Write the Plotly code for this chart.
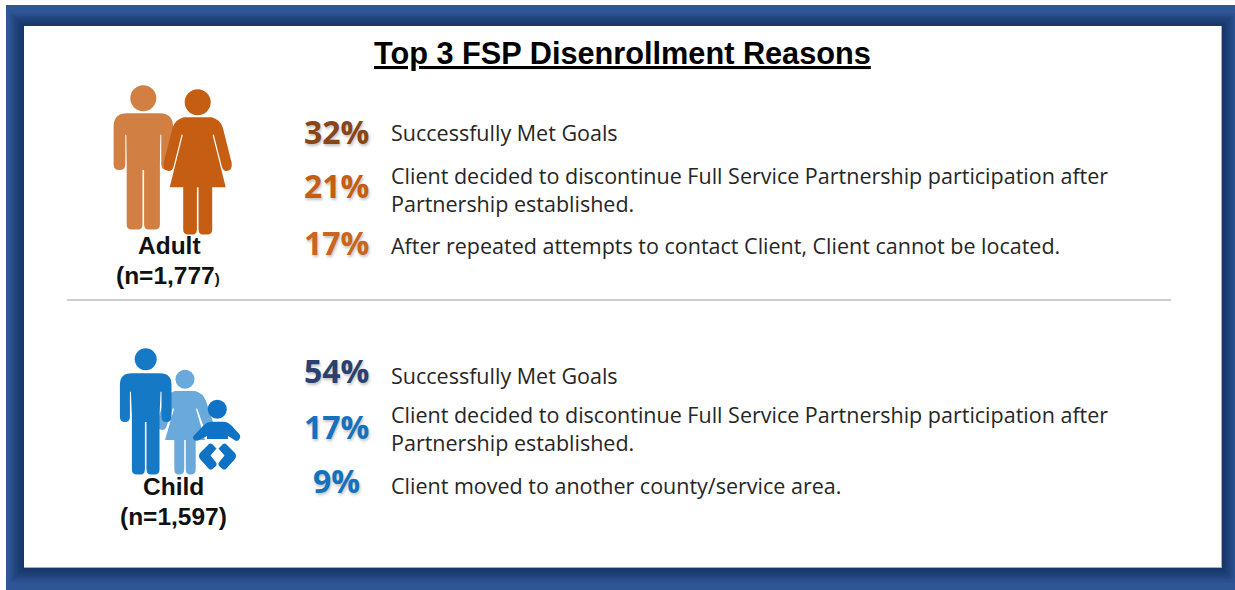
import plotly.graph_objects as go

TITLE = "Top 3 FSP Disenrollment Reasons"
adult_label = "Adult"
adult_n = "(n=1,777<span style='font-size:15px'>)</span>"
child_label = "Child"
child_n = "(n=1,597)"
adult_pct = [32, 21, 17]
child_pct = [54, 17, 9]
adult_reasons = [
    "Successfully Met Goals",
    "Client decided to discontinue Full Service Partnership participation after<br>Partnership established.",
    "After repeated attempts to contact Client, Client cannot be located.",
]
child_reasons = [
    "Successfully Met Goals",
    "Client decided to discontinue Full Service Partnership participation after<br>Partnership established.",
    "Client moved to another county/service area.",
]

W, H = 1235, 590
shapes, ann = [], []


def rect(x0, y0, x1, y1, color, opacity=1):
    shapes.append(dict(type="rect", x0=x0, y0=y0, x1=x1, y1=y1, fillcolor=color,
                       opacity=opacity, line_width=0, layer="below"))


def circle(cx, cy, r, color):
    shapes.append(dict(type="circle", x0=cx - r, x1=cx + r, y0=cy - r, y1=cy + r,
                       fillcolor=color, line_width=0, layer="below"))


def path(d, color):
    shapes.append(dict(type="path", path=d, fillcolor=color, line_width=0, layer="below"))


def man(cx, top, halfw, arm, armbot, leghalf, bot, color):
    r = arm * 1.15
    l, R = cx - halfw, cx + halfw
    d = (f"M{l},{top+r} Q{l},{top} {l+r},{top} L{R-r},{top} Q{R},{top} {R},{top+r} "
         f"L{R},{armbot-arm/2} Q{R},{armbot} {R-arm/2},{armbot} Q{R-arm},{armbot} {R-arm},{armbot-arm/2} "
         f"L{R-arm},{top+r*1.6} L{R-arm-1},{top+r*1.6} "
         f"L{cx+leghalf},{armbot-arm/2} L{cx+leghalf},{bot-5} Q{cx+leghalf},{bot} {cx+leghalf-5},{bot} "
         f"L{cx+5},{bot} Q{cx+1},{bot} {cx+0.8},{bot-5} L{cx+0.8},{armbot} L{cx-0.8},{armbot} L{cx-0.8},{bot-5} "
         f"Q{cx-1},{bot} {cx-5},{bot} L{cx-leghalf+5},{bot} Q{cx-leghalf},{bot} {cx-leghalf},{bot-5} "
         f"L{cx-leghalf},{armbot-arm/2} L{l+arm+1},{top+r*1.6} L{l+arm},{top+r*1.6} "
         f"L{l+arm},{armbot-arm/2} Q{l+arm},{armbot} {l+arm/2},{armbot} Q{l},{armbot} {l},{armbot-arm/2} Z")
    path(d, color)


def woman(cx, top, shoulder, handx, handy, hemhalf, hemy, leghalf, bot, color):
    d = (f"M{cx-shoulder+6},{top} L{cx+shoulder-6},{top} Q{cx+shoulder+2},{top+2} {cx+shoulder+5},{top+10} "
         f"L{cx+handx+1},{handy-6} Q{cx+handx+2},{handy+1} {cx+handx-4},{handy+2} Q{cx+handx-8},{handy+2} {cx+handx-9},{handy-3} "
         f"L{cx+shoulder-4},{top+17} L{cx+shoulder-5},{top+18} L{cx+hemhalf},{hemy} L{cx+leghalf},{hemy} "
         f"L{cx+leghalf},{bot-5} Q{cx+leghalf},{bot} {cx+leghalf-5},{bot} L{cx+5},{bot} Q{cx+1},{bot} {cx+0.8},{bot-5} "
         f"L{cx+0.8},{hemy} L{cx-0.8},{hemy} L{cx-0.8},{bot-5} Q{cx-1},{bot} {cx-5},{bot} L{cx-leghalf+5},{bot} "
         f"Q{cx-leghalf},{bot} {cx-leghalf},{bot-5} L{cx-leghalf},{hemy} L{cx-hemhalf},{hemy} "
         f"L{cx-shoulder+5},{top+18} L{cx-shoulder+4},{top+17} L{cx-handx+9},{handy-3} "
         f"Q{cx-handx+8},{handy+2} {cx-handx+4},{handy+2} Q{cx-handx-2},{handy+1} {cx-handx-1},{handy-6} "
         f"L{cx-shoulder-5},{top+10} Q{cx-shoulder-2},{top+2} {cx-shoulder+6},{top} Z")
    path(d, color)


# frame: blue panel, inner shadow, white card
rect(6, 5, W, H, "#2F5597")
for i in range(14):
    rect(24 - i * 1.1, 26 - i * 1.0, 1222 + i * 1.0, 568 + i * 1.1, "#14284f", 0.07)
rect(24, 26, 1222, 568, "#A9AFC0")
rect(24, 26, 1221, 567, "white")

# separator
shapes.append(dict(type="line", x0=67, x1=1171, y0=300, y1=300,
                   line=dict(color="#BDBDBD", width=1.5), layer="below"))

# adult icons
AM, AW = "#D17F42", "#C55D12"
circle(143.3, 98.3, 13, AM)
man(143.3, 113.3, 29.7, 11.7, 170, 16.6, 229.5, AM)
circle(197.7, 102.3, 13, AW)
woman(197.7, 117.3, 20, 33, 169, 28, 187.3, 14.5, 234.5, AW)

# child icons
CM, CW, CB = "#1579C6", "#6AA9DB", "#0F72C4"
circle(185, 379.3, 9.5, CW)
woman(185, 391, 16, 27, 428, 20, 440, 10.7, 474.5, CW)
circle(145.7, 359.3, 11, CM)
man(145.7, 373.3, 25.8, 10, 422, 13.8, 474.5, CM)
circle(217.3, 409.3, 9.5, CB)
path("M193.5,436 L203,426 Q207,421.7 212,421.7 L223,421.7 Q228,421.7 232,426 L240,435 "
     "Q241,439 237,441 Q235,441 233,439 L228,436 L228,439 L207,439 L207,436 L201,439 "
     "Q197,442 194,440 Q192,438 193.5,436 Z", CB)
path("M200,453 L209,444 Q210,443 212,444 L216.5,448.5 L210.5,455.5 L216.5,463 Q217,465 215.5,466.5 L212.5,469 "
     "Q210.5,470 209,469 L200,459 Q198,456 200,453 Z", CB)
path("M235,453 L226,444 Q225,443 223,444 L218.5,448.5 L224.5,455.5 L218.5,463 Q218,465 219.5,466.5 L222.5,469 "
     "Q224.5,470 226,469 L235,459 Q237,456 235,453 Z", CB)


def text(x, y, s, size, color, family, anchor="left", bold=False, shadow=None):
    f = dict(size=size, color=color, family=family, weight="bold" if bold else "normal")
    if shadow:
        f["shadow"] = shadow
    ann.append(dict(x=x, y=y, xref="x", yref="y", text=s, showarrow=False, font=f,
                    xanchor=anchor, yanchor="middle", align=anchor, borderpad=0))


SANS = "Liberation Sans"
BODY = "Open Sans"
PCT = "Open Sans"
SH = "1px 2px 3px rgba(0,0,0,0.25)"

text(622.5, 53, f"<u>{TITLE}</u>", 30.7, "black", SANS, "center", True)
text(169, 245.5, adult_label, 24.5, "#111111", SANS, "center", True)
text(168, 275.5, adult_n, 24.5, "#111111", SANS, "center", True)
text(173, 486.5, child_label, 24.5, "#111111", SANS, "center", True)
text(173, 516.5, child_n, 24.5, "#111111", SANS, "center", True)

adult_colors = ["#8A4516", "#C55D12", "#C9651E"]
child_colors = ["#2A4170", "#1372BE", "#1372BE"]
for p, c, y in zip(adult_pct, adult_colors, [131, 185, 242]):
    text(336.5, y, f"{p}%", 32, c, PCT, "center", True, SH)
for p, c, y in zip(child_pct, child_colors, [370, 426, 480]):
    text(336.5, y, f"{p}%", 32, c, PCT, "center", True, SH)

for r, y in zip(adult_reasons, [132, 189.5, 245]):
    text(389.5, y, r, 21.5, "#262626", BODY)
for r, y in zip(child_reasons, [375, 428, 485]):
    text(389.5, y, r, 21.5, "#262626", BODY)

fig = go.Figure()
fig.update_layout(
    width=W, height=H, margin=dict(l=0, r=0, t=0, b=0),
    paper_bgcolor="white", plot_bgcolor="white", showlegend=False,
    xaxis=dict(range=[0, W], visible=False, fixedrange=True),
    yaxis=dict(range=[H, 0], visible=False, fixedrange=True),
    shapes=shapes, annotations=ann,
)
fig.write_html("out.html", config=dict(displayModeBar=False),
               post_script="document.body.style.margin='0';document.body.style.overflow='hidden';")
